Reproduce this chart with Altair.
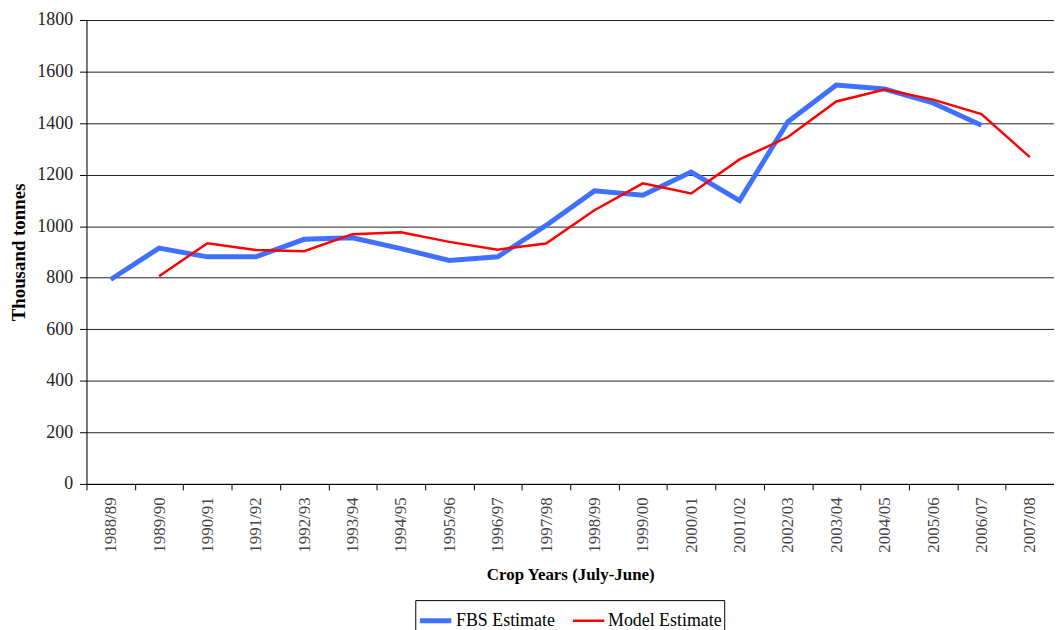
import altair as alt
import pandas as pd

years = ["1988/89", "1989/90", "1990/91", "1991/92", "1992/93", "1993/94", "1994/95",
         "1995/96", "1996/97", "1997/98", "1998/99", "1999/00", "2000/01", "2001/02",
         "2002/03", "2003/04", "2004/05", "2005/06", "2006/07", "2007/08"]
fbs = [793, 915, 881, 881, 949, 955, 913, 867, 881, 1003, 1137, 1120, 1210, 1099,
       1405, 1548, 1532, 1478, 1392, None]
model = [None, 806, 934, 908, 903, 969, 976, 939, 909, 933, 1062, 1166, 1127, 1259,
         1346, 1484, 1530, 1491, 1435, 1268]
series_names = ["FBS Estimate", "Model Estimate"]

rows = []
for y, a, b in zip(years, fbs, model):
    if a is not None:
        rows.append({"year": y, "value": a, "series": series_names[0]})
    if b is not None:
        rows.append({"year": y, "value": b, "series": series_names[1]})
df = pd.DataFrame(rows)

serif = "Liberation Serif, DejaVu Serif, serif"

legend_kw = dict(title=None, orient="none", legendX=331, legendY=584,
                 direction="horizontal", symbolType="stroke", symbolSize=1000,
                 labelFont=serif, labelFontSize=18, labelColor="#000",
                 strokeColor="#000", padding=2, columnPadding=12, labelOffset=2)

chart = alt.Chart(df).mark_line().encode(
    x=alt.X("year:N", sort=years, bandPosition=0.5,
            scale=alt.Scale(type="band", domain=years, paddingInner=0, paddingOuter=0),
            axis=alt.Axis(title="Crop Years (July-June)", labelAngle=-90, tickBand="extent",
                          labelFont=serif, labelFontSize=17, labelColor="#444",
                          labelPadding=7, tickSize=6, tickColor="#000", domainColor="#000",
                          titleFont=serif, titleFontSize=17, titleFontWeight="bold",
                          titleColor="#000", titlePadding=15, grid=False)),
    y=alt.Y("value:Q", scale=alt.Scale(domain=[0, 1800], nice=False),
            axis=alt.Axis(title="Thousand tonnes", values=list(range(0, 1801, 200)),
                          format="d",
                          labelFont=serif, labelFontSize=18, labelColor="#222",
                          labelPadding=7, tickSize=7, tickColor="#000", domainColor="#000",
                          titleFont=serif, titleFontSize=19, titleFontWeight="bold",
                          titleColor="#000", titlePadding=8,
                          gridColor="#222", gridWidth=1, gridOpacity=1)),
    color=alt.Color("series:N",
                    scale=alt.Scale(domain=series_names, range=["#4070FF", "#FF0000"]),
                    legend=alt.Legend(**legend_kw)),
    strokeWidth=alt.StrokeWidth("series:N",
                                scale=alt.Scale(domain=series_names, range=[5, 2.5]),
                                legend=alt.Legend(**legend_kw)),
).properties(
    width=974, height=467,
    autosize=alt.AutoSizeParams(type="none"),
    padding={"left": 79, "top": 10, "right": 0, "bottom": 145},
).configure_view(stroke=None).configure(
    font=serif
).configure_legend(
    labelFont=serif, labelFontSize=18, labelColor="#000"
).configure_axis(
    labelFont=serif, titleFont=serif
)

chart.save("out.html", embed_options={"renderer": "svg", "actions": False})
